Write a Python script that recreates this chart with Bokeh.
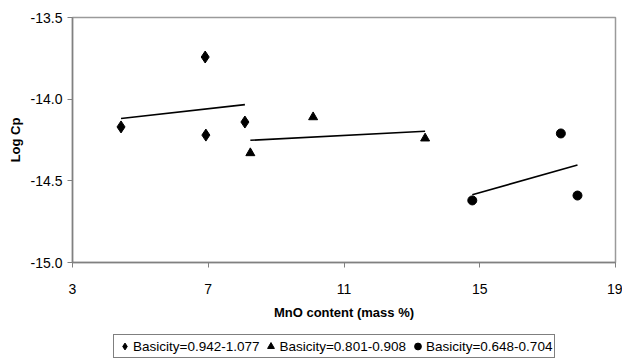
import numpy as np
from bokeh.plotting import figure
from bokeh.layouts import column
from bokeh.models import Range1d, FixedTicker, Legend, LegendItem, NumeralTickFormatter
from bokeh.embed import file_html
from bokeh.resources import INLINE

# data
x_b1 = [4.43, 6.91, 6.93, 8.08]
y_b1 = [-14.17, -13.742, -14.22, -14.14]
x_b2 = [8.24, 10.09, 13.39]
y_b2 = [-14.33, -14.11, -14.24]
x_b3 = [14.78, 17.39, 17.88]
y_b3 = [-14.62, -14.21, -14.59]
labels = ["Basicity=0.942-1.077", "Basicity=0.801-0.908", "Basicity=0.648-0.704"]
markers = ["diamond", "triangle", "circle"]
x_ticks = [3, 7, 11, 15, 19]
y_ticks = [-15.0, -14.5, -14.0, -13.5]

FONT = "Liberation Sans"

p = figure(width=622, height=322, output_backend="svg", toolbar_location=None,
           x_range=Range1d(3, 19), y_range=Range1d(-15.0, -13.5),
           min_border_left=72, min_border_right=7, min_border_top=17, min_border_bottom=59)
p.xgrid.visible = False
p.ygrid.visible = False
p.outline_line_color = "#9a9a9a"
p.outline_line_width = 1.5
p.background_fill_color = "white"
p.border_fill_color = "white"

for ax in (p.xaxis[0], p.yaxis[0]):
    ax.axis_line_color = "#808080"
    ax.axis_line_width = 1.5
    ax.major_tick_line_color = "#808080"
    ax.major_tick_in = 0
    ax.major_tick_out = 5
    ax.minor_tick_line_color = None
    ax.major_label_text_font = FONT
    ax.major_label_text_font_size = "14px"
    ax.major_label_text_color = "black"
    ax.axis_label_text_font = FONT
    ax.axis_label_text_font_style = "bold"
    ax.axis_label_text_font_size = "13px"
    ax.axis_label_text_color = "black"

p.xaxis[0].ticker = FixedTicker(ticks=x_ticks)
p.yaxis[0].ticker = FixedTicker(ticks=y_ticks)
p.yaxis[0].formatter = NumeralTickFormatter(format="0.0")
p.xaxis[0].major_label_standoff = 16
p.yaxis[0].major_label_standoff = 5
p.xaxis[0].axis_label = "MnO content (mass %)"
p.yaxis[0].axis_label = "Log Cp"
p.xaxis[0].axis_label_standoff = 8
p.yaxis[0].axis_label_standoff = 5

series = [(x_b1, y_b1, 12), (x_b2, y_b2, 9), (x_b3, y_b3, 9)]
for (xs, ys, sz), mk in zip(series, markers):
    xs_a = np.array(xs); ys_a = np.array(ys)
    k, b = np.polyfit(xs_a, ys_a, 1)
    xl = np.array([xs_a.min(), xs_a.max()])
    p.line(xl, k * xl + b, line_color="black", line_width=1.6)
    p.scatter(xs, ys, marker=mk, size=sz, fill_color="black", line_color="black")

# legend strip below the chart (its renderers hold no visible point)
lg = figure(width=622, height=39, output_backend="svg", toolbar_location=None,
            x_range=Range1d(0, 1), y_range=Range1d(0, 1),
            min_border=0, min_border_left=0, min_border_right=0, min_border_top=0, min_border_bottom=0)
lg.axis.visible = False
lg.xgrid.visible = False
lg.ygrid.visible = False
lg.outline_line_color = None
items = []
for mk, lab in zip(markers, labels):
    r = lg.scatter(x=[np.nan], y=[np.nan], marker=mk, size=7, fill_color="black", line_color="black")
    items.append(LegendItem(label=lab, renderers=[r]))
legend = Legend(items=items, orientation="horizontal", location=(41, 3),
                label_text_font=FONT, label_text_font_size="13.5px", label_text_color="black",
                glyph_width=17, glyph_height=18, label_standoff=0, spacing=3,
                padding=2, margin=0, border_line_color="black", border_line_width=1,
                label_height=16, background_fill_alpha=1.0)
lg.add_layout(legend)

layout = column(p, lg, spacing=0)
open("out.html", "w").write(file_html(layout, INLINE))
